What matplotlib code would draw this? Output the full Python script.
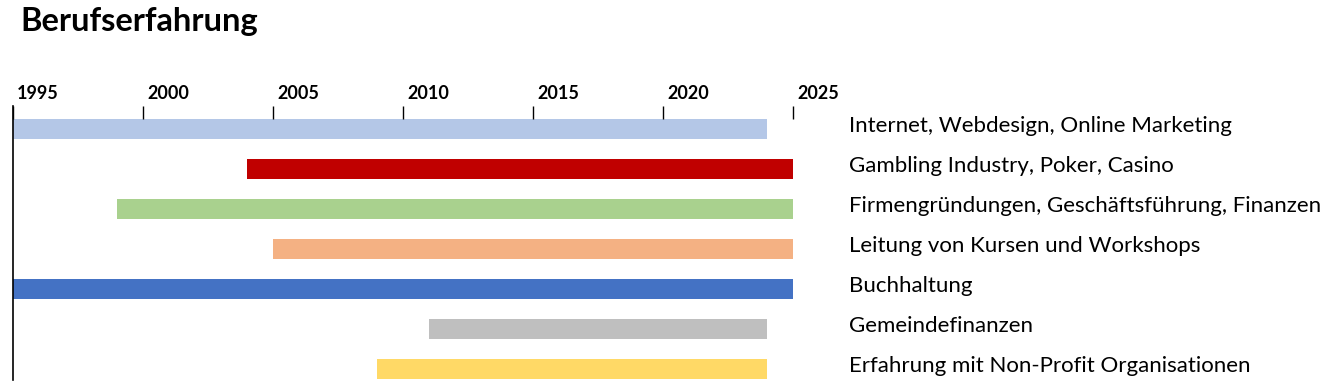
import matplotlib.pyplot as plt
import matplotlib.transforms as mtransforms

# Data
labels = ['Internet, Webdesign, Online Marketing',
          'Gambling Industry, Poker, Casino',
          'Firmengründungen, Geschäftsführung, Finanzen',
          'Leitung von Kursen und Workshops',
          'Buchhaltung',
          'Gemeindefinanzen',
          'Erfahrung mit Non-Profit Organisationen']
start_years = [1995, 2004, 1999, 2005, 1995, 2011, 2009]
end_years = [2024, 2025, 2025, 2025, 2025, 2024, 2024]
bar_colors = ['#B4C7E7', '#C00000', '#A9D18E', '#F4B183',
              '#4472C4', '#BFBFBF', '#FFD966']
year_ticks = [1995, 2000, 2005, 2010, 2015, 2020, 2025]

plt.rcParams['font.family'] = ['Lato', 'DejaVu Sans']

W, H = 1322, 391
fig = plt.figure(figsize=(W / 100, H / 100), dpi=100)

# axes placed in pixel units: 1995 at x=13, 2025 at x=793, top at y=106, bottom at y=380
ax = fig.add_axes([13 / W, 1 - 380 / H, 780 / W, 274 / H])

widths = [e - s for s, e in zip(start_years, end_years)]
ypos = list(range(len(labels)))
ax.barh(ypos, widths, left=start_years, height=0.5, color=bar_colors)

ax.set_xlim(1995, 2025)
ax.set_ylim(6.275, -0.575)

for side in ['top', 'right', 'bottom']:
  ax.spines[side].set_visible(False)
ax.spines['left'].set_linewidth(1.2)

ax.set_yticks([])
ax.xaxis.tick_top()
ax.set_xticks(year_ticks)
ax.set_xticklabels([str(y) for y in year_ticks], fontweight='bold',
                   fontsize=13, ha='left')
ax.tick_params(axis='x', direction='in', length=9.5, width=1, pad=3)

# shift year labels slightly right of their tick
offset = mtransforms.ScaledTranslation(4 / 100, 0, fig.dpi_scale_trans)
for lbl in ax.get_xticklabels():
  lbl.set_transform(lbl.get_transform() + offset)

# Category labels on the right
trans = mtransforms.blended_transform_factory(fig.transFigure, ax.transData)
trans = trans + mtransforms.ScaledTranslation(0, 3 / 100, fig.dpi_scale_trans)
for i, text in enumerate(labels):
  ax.text(849 / W, i, text, transform=trans, fontsize=16,
          va='center', ha='left', color='black')

fig.text(20 / W, 1 - 22 / H, 'Berufserfahrung', fontsize=23.5,
         fontweight='bold', va='center', ha='left')

fig.savefig('out.png', dpi=100)
